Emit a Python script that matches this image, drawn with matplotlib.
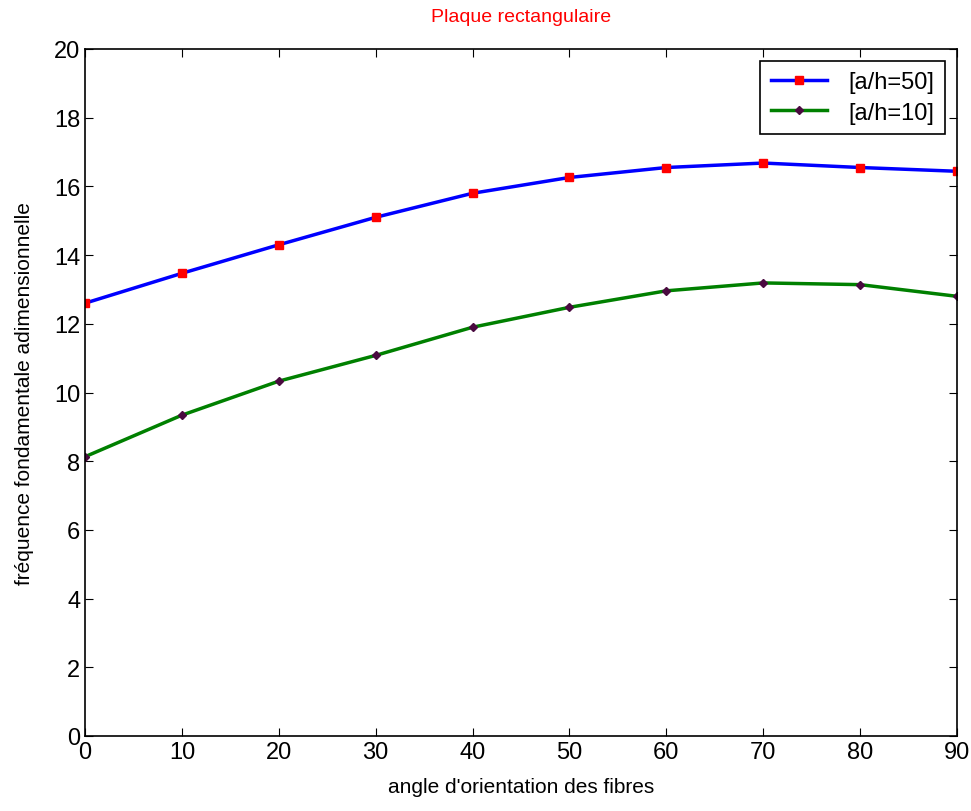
import matplotlib.pyplot as plt

# angle d'orientation des fibres
angles = [0, 10, 20, 30, 40, 50, 60, 70, 80, 90]

# frequence fondamentale adimensionnelle
freq_50 = [12.6, 13.47, 14.3, 15.1, 15.8, 16.26, 16.55, 16.68, 16.55, 16.44]
freq_10 = [8.13, 9.34, 10.33, 11.08, 11.9, 12.48, 12.96, 13.19, 13.14, 12.8]

plt.rcParams['font.family'] = ['Liberation Sans', 'DejaVu Sans']

fig = plt.figure(figsize=(9.71, 8.12), dpi=100)
ax = fig.add_axes([85/971, 75/812, 872/971, 687/812])

ax.plot(angles, freq_50, color='blue', linewidth=2.5, marker='s', markersize=6,
        markerfacecolor='red', markeredgecolor='red', label='[a/h=50]')
ax.plot(angles, freq_10, color='green', linewidth=2.5, marker='D', markersize=4.5,
        markerfacecolor='#4a0a40', markeredgecolor='#4a0a40', label='[a/h=10]')

ax.set_xlim(0, 90)
ax.set_ylim(0, 20)
ax.set_xticks(range(0, 91, 10))
ax.set_yticks(range(0, 21, 2))
ax.tick_params(direction='in', top=True, right=True, labelsize=17, length=6)
for s in ax.spines.values():
    s.set_linewidth(1.2)

ax.set_xlabel("angle d'orientation des fibres", fontsize=15, labelpad=10)
ax.set_ylabel('fréquence fondamentale adimensionnelle', fontsize=15, labelpad=14)
ax.set_title('Plaque rectangulaire', color='red', fontsize=14, pad=20)

leg = ax.legend(loc='upper right', fontsize=17, fancybox=False, framealpha=1,
                edgecolor='black', borderaxespad=0.5, handlelength=2.4,
                handletextpad=0.9, labelspacing=0.35, borderpad=0.45)
leg.get_frame().set_linewidth(1.2)

fig.savefig('out.png', dpi=100)
